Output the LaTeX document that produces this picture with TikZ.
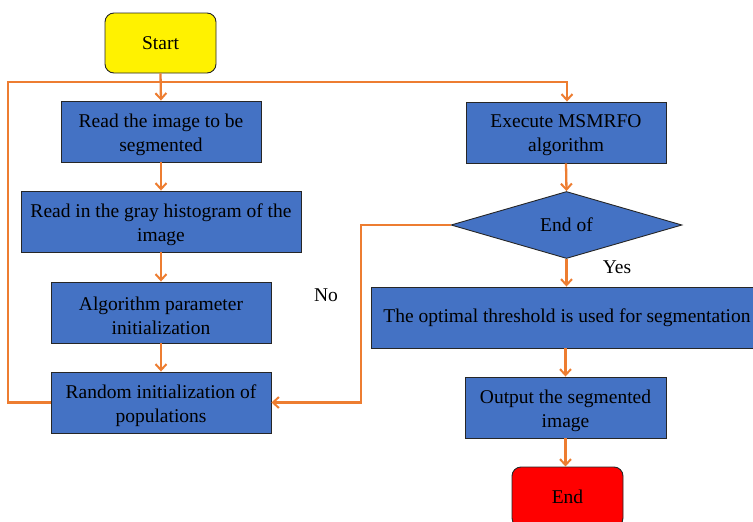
\documentclass[tikz,border=0pt]{standalone}
\usepackage{fontspec}
\setmainfont{Liberation Serif}
\usetikzlibrary{arrows.meta,shapes.geometric}
\definecolor{boxblue}{HTML}{4472C4}
\definecolor{lineorange}{HTML}{ED7D31}
\newcommand{\twoline}[3]{\parbox{#1}{\vspace*{6pt}\centering #2\\#3}}
\tikzset{
  procbox/.style={draw=black!85, line width=0.9pt, fill=boxblue, minimum width=200pt, minimum height=61pt, inner sep=0pt, align=center, font=\fontsize{19.5}{24}\selectfont},
  termbox/.style={draw=black!85, line width=0.9pt, rounded corners=9pt, minimum width=111pt, minimum height=60pt, inner sep=0pt, align=center, font=\fontsize{19.5}{24}\selectfont},
  decbox/.style={draw=black!85, line width=0.9pt, fill=boxblue, diamond, minimum width=231pt, minimum height=67pt, inner sep=0pt, font=\fontsize{19.5}{24}\selectfont},
  flow/.style={draw=lineorange, line width=2.3pt, -{Straight Barb[length=6pt,width=11pt,line width=2pt]}},
  lbl/.style={font=\fontsize{19.5}{24}\selectfont, inner sep=0pt}
}
\begin{document}
\begin{tikzpicture}[x=1pt,y=-1pt]
\useasboundingbox (0,0) rectangle (753,522);
\node[termbox, fill=yellow] (start) at (160.5,43) {Start};
\node[procbox] (read) at (161,131.5) {\twoline{200pt}{Read the image to be}{segmented}};
\node[procbox, minimum width=280pt] (hist) at (161,221.5) {\twoline{280pt}{Read in the gray histogram of the}{image}};
\node[procbox, minimum width=220pt] (param) at (161,312.5) {\twoline{220pt}{Algorithm parameter}{initialization}};
\node[procbox, minimum width=220pt] (rand) at (161,402.5) {\twoline{220pt}{Random initialization of}{populations}};
\node[procbox] (exec) at (566,132.5) {\twoline{200pt}{Execute MSMRFO}{algorithm}};
\node[decbox] (dec) at (566.5,225) {End of};
\node[procbox, minimum width=392pt] (opt) at (567,317.5) {The optimal threshold is used for segmentation};
\node[procbox, minimum width=201pt] (out) at (565.5,407.5) {\twoline{201pt}{Output the segmented}{image}};
\node[termbox, fill=red] (end) at (567.5,497) {End};
\node[lbl] (no) at (326,295) {No};
\node[lbl] (yes) at (617,267) {Yes};
\coordinate (tl) at (8,82);
\coordinate (tr) at (567,82);
\coordinate (nr) at (361,225);
\draw[flow] (start.south) -- (read.north);
\draw[flow] (read.south) -- (hist.north);
\draw[flow] (hist.south) -- (param.north);
\draw[flow] (param.south) -- (rand.north);
\draw[flow] (rand.west) -| (tl) -- (tr) -- (exec.north -| tr);
\draw[flow] (exec.south) -- (dec.north);
\draw[flow] (dec.south) -- (opt.north -| dec.south);
\draw[flow] (opt.south -| out.north) -- (out.north);
\draw[flow] (out.south) -- (end.north -| out.south);
\draw[flow] (dec.west) -- (nr) |- (rand.east);
\end{tikzpicture}
\end{document}
